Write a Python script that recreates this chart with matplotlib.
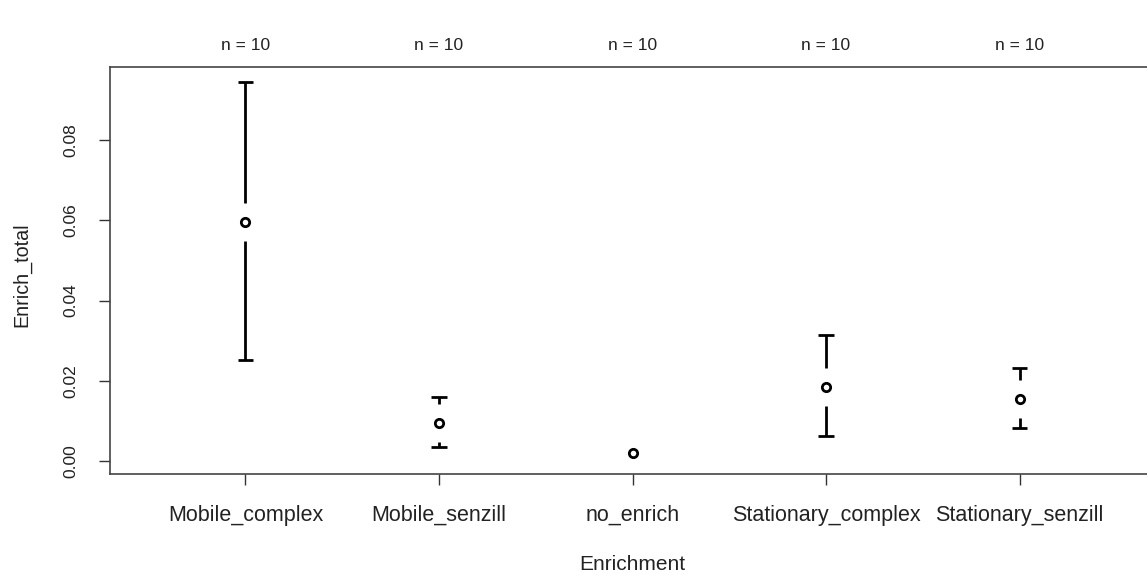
import matplotlib.pyplot as plt
import matplotlib.transforms as mtransforms
import numpy as np

plt.rcParams["font.family"] = ["Liberation Sans", "DejaVu Sans"]

# values
groups = ["Mobile_complex", "Mobile_senzill", "no_enrich", "Stationary_complex", "Stationary_senzill"]
means = [0.0596, 0.0095, 0.0020, 0.0184, 0.0155]
upper = [0.0945, 0.0160, 0.0025, 0.0314, 0.0232]
lower = [0.0252, 0.0035, 0.0015, 0.0062, 0.0082]
counts = [10, 10, 10, 10, 10]

W, H = 1147, 578
fig = plt.figure(figsize=(W / 100, H / 100), dpi=100)
ax = fig.add_axes([110 / W, 104 / H, (1155 - 110) / W, 407 / H])

ylim = (-0.00324, 0.0982)
ax.set_xlim(0.3, 5.7)
ax.set_ylim(*ylim)

x = np.arange(1, len(groups) + 1)
# gap around the mean, as in gplots plotCI
gap = 19 * (ylim[1] - ylim[0]) / 407
cap = 0.039
for xi, m, u, l in zip(x, means, upper, lower):
    if u - m > gap:
        ax.vlines(xi, m + gap, u, color="black", lw=2)
        ax.hlines(u, xi - cap, xi + cap, color="black", lw=2)
    if m - l > gap:
        ax.vlines(xi, l, m - gap, color="black", lw=2)
        ax.hlines(l, xi - cap, xi + cap, color="black", lw=2)
ax.plot(x, means, "o", mfc="white", mec="black", ms=6, mew=2, ls="none")

txt = "#222222"
top_trans = mtransforms.blended_transform_factory(ax.transData, fig.transFigure)
for xi, n in zip(x, counts):
    ax.text(xi, 1 - 45 / H, f"n = {n}", transform=top_trans,
            ha="center", va="center", fontsize=12.5, color=txt)

ax.set_xticks(x)
ax.set_xticklabels(groups, fontsize=15.5, color=txt)
yt = [0.0, 0.02, 0.04, 0.06, 0.08]
ax.set_yticks(yt)
ax.set_yticklabels([f"{v:.2f}" for v in yt], rotation=90, va="center", fontsize=12.5, color=txt)
ax.tick_params(direction="out", length=8, width=1, color="#333333")
ax.tick_params(axis="x", pad=14)
ax.tick_params(axis="y", pad=14.5)
for s in ax.spines.values():
    s.set_linewidth(1.2)
    s.set_color("#444444")

fig.text(632.5 / W, 1 - 565 / H, "Enrichment", ha="center", va="center", fontsize=15, color=txt)
fig.text(22 / W, 1 - 275 / H, "Enrich_total", ha="center", va="center", rotation=90,
         fontsize=14.2, color=txt)

fig.savefig("out.png", dpi=100)
